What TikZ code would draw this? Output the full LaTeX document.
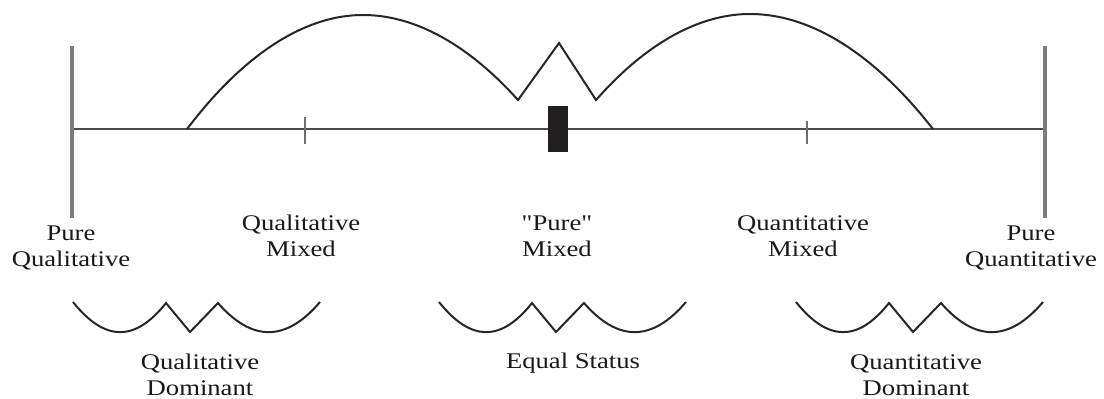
\documentclass[tikz,border=0pt]{standalone}
\usepackage{fontspec}
\setmainfont{Liberation Serif}[FakeStretch=1.19, Ligatures=TeXOff]
\usetikzlibrary{positioning}
\definecolor{axisgray}{HTML}{4A4A4A}
\definecolor{polegray}{HTML}{7C7C7C}
\definecolor{curveink}{HTML}{262626}
\definecolor{boxink}{HTML}{231F20}
\tikzset{
  lbl/.style={align=center, inner sep=0pt, text=black!90, font=\fontsize{11.2}{12.9}\selectfont},
  pole/.style={draw=polegray, line width=1.7pt},
  axis/.style={draw=axisgray, line width=0.85pt},
  tick/.style={draw=axisgray!80, line width=1.2pt},
  curve/.style={draw=curveink, line width=1pt, line join=miter},
}
\begin{document}
\begin{tikzpicture}[x=0.5pt, y=-0.5pt]
  \useasboundingbox (0,0) rectangle (1104,398);
  % the scale and its two poles
  \coordinate (qlpole) at (72,129);
  \coordinate (qnpole) at (1045,129);
  \draw[axis] (qlpole) -- (qnpole);
  \foreach \x in {72,1045}
    { \draw[pole] (\x,46) -- (\x,218); }
  \foreach \x/\a/\b in {305/117/144, 807/121/144}
    { \draw[tick] (\x,\a) -- (\x,\b); }
  \node[fill=boxink, minimum width=10pt, minimum height=23pt, inner sep=0pt] (puremark) at (558,129) {};
  % the two humps over the scale
  \draw[curve] (187,129) parabola bend (363,15) (518,100) -- (559,43) -- (596,100)
    parabola bend (750,14) (933,129);
  % the three small waves
  \foreach \sx in {73,439,796}
    { \draw[curve] (\sx,302) .. controls ({\sx+32},342) and ({\sx+62},342) .. ({\sx+93},303)
        -- ({\sx+117},332) -- ({\sx+145},303)
        .. controls ({\sx+179},342) and ({\sx+213},342) .. ({\sx+247},302); }
  % labels
  \node[lbl] (pureql) at (71,248) {Pure\\Qualitative};
  \node[lbl] (mixql) at (301,236) {Qualitative\\Mixed};
  \node[lbl] (mixpure) at (557,236) {"Pure"\\Mixed};
  \node[lbl] (mixqn) at (803,236) {Quantitative\\Mixed};
  \node[lbl] (purqn) at (1031,248) {Pure\\Quantitative};
  \node[lbl] (domql) at (200,375) {Qualitative\\Dominant};
  \node[lbl] (equal) at (573,363) {Equal Status};
  \node[lbl] (domqn) at (916,375) {Quantitative\\Dominant};
\end{tikzpicture}
\end{document}
